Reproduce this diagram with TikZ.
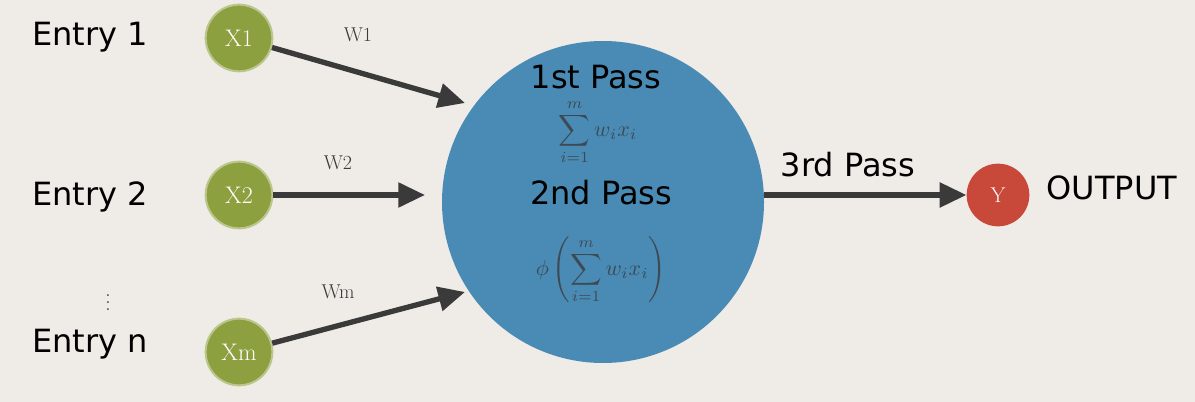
\documentclass[tikz,border=0pt]{standalone}
\usepackage{amsmath}
\usepackage{fontspec}
\setsansfont{DejaVu Sans}
\usepackage{tikz}
\usetikzlibrary{arrows.meta}
\definecolor{bgcol}{HTML}{EFEBE7}
\definecolor{incol}{HTML}{8DA040}
\definecolor{neucol}{HTML}{4A8BB5}
\definecolor{outcol}{HTML}{C8483A}
\definecolor{arrcol}{HTML}{3A3A3A}
\tikzset{
  inode/.style={circle,fill=incol,draw=incol!60!white,line width=1.5pt,minimum size=50pt,inner sep=0pt,text=white,font=\fontsize{18}{18}\selectfont\rmfamily},
  onode/.style={circle,fill=outcol,minimum size=47pt,inner sep=0pt,text=white,font=\fontsize{16}{16}\selectfont\rmfamily},
  big/.style={font=\sffamily\fontsize{24}{24}\selectfont},
  wlab/.style={text=arrcol,font=\rmfamily\fontsize{15}{15}\selectfont},
  fml/.style={text=arrcol!80!neucol,scale=1.65},
  conn/.style={line width=4pt,draw=arrcol,-{Triangle[length=20pt,width=18pt]}}
}
\begin{document}
\begin{tikzpicture}[x=0.75pt,y=0.75pt,yscale=-1]
\fill[bgcol] (0,0) rectangle (1195,402);
\useasboundingbox (0,0) rectangle (1195,402);

% neuron
\node[circle,fill=neucol,minimum size=322*0.75pt,inner sep=0pt] (neuron) at (603,202) {};
\node[onode] (y) at (998,195) {Y};

% inputs
\node[inode] (x1) at (239,38) {X1};
\node[inode] (x2) at (239,195) {X2};
\node[inode] (xm) at (239,352) {Xm};

% connectors
\coordinate (t1) at (465,103);
\coordinate (t2) at (425,195);
\coordinate (tm) at (465,292);
\coordinate (n2) at (764,195);
\draw[conn] (x1) -- (t1);
\draw[conn] (x2) -- (t2);
\draw[conn] (xm) -- (tm);
\draw[conn] (n2) -- (y.west);

% text nodes
\node[big] (e1) at (90,37) {Entry 1};
\node[big] (e2) at (90,197) {Entry 2};
\node[text=arrcol,scale=1.3] (dots) at (108,297) {$\vdots$};
\node[big] (en) at (90,344) {Entry n};
\node[wlab] (w1) at (358,35) {W1};
\node[wlab] (w2) at (338,163) {W2};
\node[wlab] (wm) at (338,292) {Wm};
\node[fml] (s1) at (598,132) {$\displaystyle\sum_{i=1}^{m} w_i x_i$};
\node[fml] (s2) at (601,270) {$\displaystyle\phi\left(\sum_{i=1}^{m} w_i x_i\right)$};
\node[big] (p1) at (596,77) {1st Pass};
\node[big] (p2) at (601,193) {2nd Pass};
\node[big] (p3) at (848,165) {3rd Pass};
\node[big] (out) at (1112,188) {OUTPUT};
\end{tikzpicture}
\end{document}
